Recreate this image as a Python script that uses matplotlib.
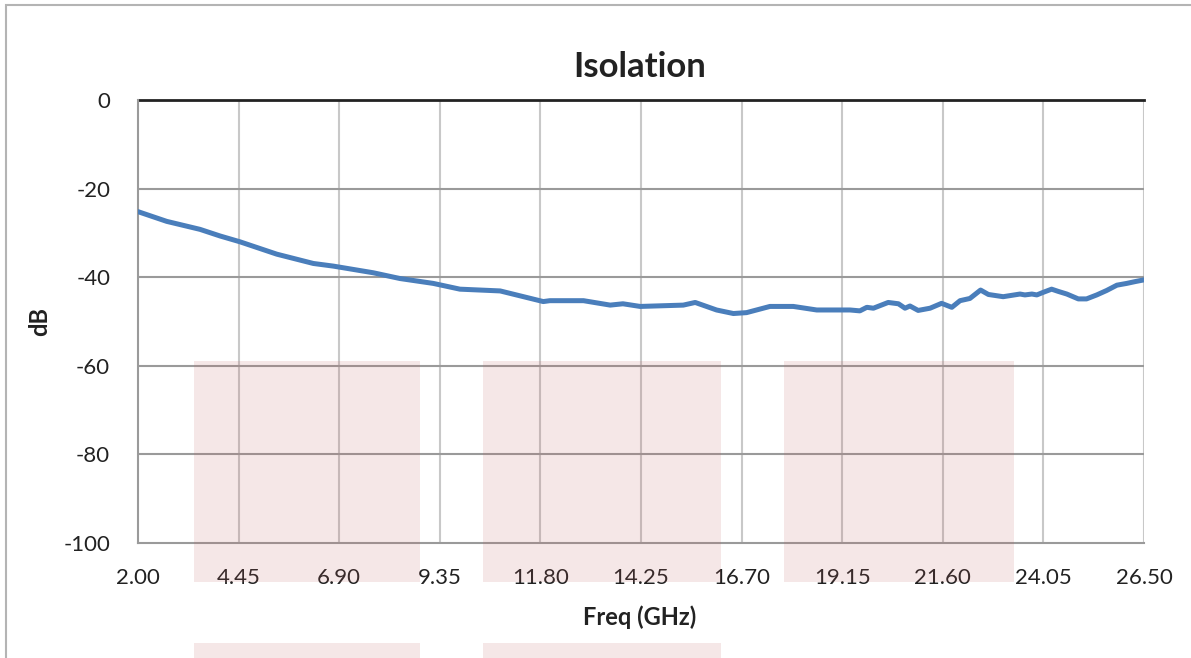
import numpy as np
import matplotlib.pyplot as plt
from matplotlib.patches import Rectangle

# Isolation curve
freq_ghz = [2.00, 2.70, 3.51, 4.00, 4.48, 5.38, 6.27, 6.76, 7.73, 8.38, 9.19, 9.84,
            10.82, 11.87, 12.03, 12.85, 13.50, 13.81, 14.23, 15.28, 15.57, 16.09,
            16.50, 16.82, 17.39, 17.96, 18.53, 19.34, 19.58, 19.75, 19.91, 20.27,
            20.52, 20.68, 20.80, 21.00, 21.29, 21.57, 21.82, 22.02, 22.26, 22.52,
            22.71, 23.07, 23.48, 23.60, 23.77, 23.89, 24.05, 24.25, 24.41, 24.62,
            24.90, 25.10, 25.35, 25.59, 25.84, 26.08, 26.28, 26.50]
isolation_db = [-25.2, -27.4, -29.2, -30.7, -32.0, -34.8, -36.9, -37.5, -39.0, -40.3,
                -41.4, -42.7, -43.1, -45.5, -45.3, -45.3, -46.3, -46.0, -46.6, -46.3,
                -45.7, -47.4, -48.2, -48.0, -46.6, -46.6, -47.4, -47.4, -47.6, -46.8,
                -47.0, -45.7, -46.0, -47.0, -46.5, -47.5, -47.0, -45.9, -46.8, -45.3,
                -44.8, -42.9, -43.9, -44.4, -43.8, -44.0, -43.8, -44.0, -43.4, -42.7,
                -43.2, -43.8, -44.9, -44.9, -44.0, -43.0, -41.8, -41.4, -41.0, -40.6]

x_ticks = [2.00, 4.45, 6.90, 9.35, 11.80, 14.25, 16.70, 19.15, 21.60, 24.05, 26.50]
y_ticks = [0, -20, -40, -60, -80, -100]

W, H = 1191, 658
plt.rcParams['font.family'] = ['Lato', 'DejaVu Sans']
plt.rcParams['axes.unicode_minus'] = False

fig = plt.figure(figsize=(W / 100, H / 100), dpi=100)
fig.patch.set_facecolor('white')

def px(x0, y0, x1, y1):
    # pixel box (top-left origin) -> figure fraction [l, b, w, h]
    return [x0 / W, 1 - y1 / H, (x1 - x0) / W, (y1 - y0) / H]

ax = fig.add_axes(px(138, 100, 1144, 543))
ax.set_facecolor('none')

ax.plot(freq_ghz, isolation_db, color='#4a7ebb', lw=3.6, solid_capstyle='round',
        solid_joinstyle='round', zorder=3)

ax.set_xlim(x_ticks[0], x_ticks[-1])
ax.set_ylim(-100, 0)
ax.set_xticks(x_ticks)
ax.set_xticklabels([f'{t:.2f}' for t in x_ticks])
ax.set_yticks(y_ticks)
ax.tick_params(length=0, labelsize=16, colors='#222222')
ax.tick_params(axis='x', pad=18)
ax.tick_params(axis='y', pad=20)

for t in x_ticks[1:]:
    ax.axvline(t, color='#c8c8c8', lw=1.5, zorder=1)
for t in y_ticks[1:-1]:
    ax.axhline(t, color='#9a9a9a', lw=1.5, zorder=1)

for side in ['top', 'right']:
    ax.spines[side].set_visible(False)
ax.spines['left'].set_color('#9a9a9a')
ax.spines['left'].set_linewidth(1.5)
ax.spines['bottom'].set_color('#9a9a9a')
ax.spines['bottom'].set_linewidth(1.5)
ax.axhline(0, color='#222222', lw=2, zorder=2, clip_on=False)

fig.text(640 / W, 1 - 67 / H, 'Isolation', ha='center', va='center',
         fontsize=25, fontweight='bold', color='#222222')
fig.text(640 / W, 1 - 617 / H, 'Freq (GHz)', ha='center', va='center',
         fontsize=17, fontweight='bold', color='#222222')
fig.text(40 / W, 1 - 322 / H, 'dB', ha='center', va='center', rotation=90,
         fontsize=17, fontweight='bold', color='#222222')

# outer chart frame (cut by the image edge on right/bottom)
fig.patches.append(Rectangle((6 / W, -0.1), 1.2, 1.1 - 5 / H, transform=fig.transFigure,
                             fill=False, edgecolor='#b4b4b4', lw=1.5))

# translucent pink blocks laid over the chart
pink_boxes = [(194, 361, 420, 582), (483, 361, 721, 582), (784, 361, 1014, 582),
              (194, 643, 420, 700), (483, 643, 721, 700)]
for x0, y0, x1, y1 in pink_boxes:
    l, b, w, h = px(x0, y0, x1, y1)
    fig.patches.append(Rectangle((l, b), w, h, transform=fig.transFigure,
                                 facecolor='#c06060', alpha=0.15, edgecolor='none',
                                 zorder=10))

fig.savefig('out.png', dpi=100)
